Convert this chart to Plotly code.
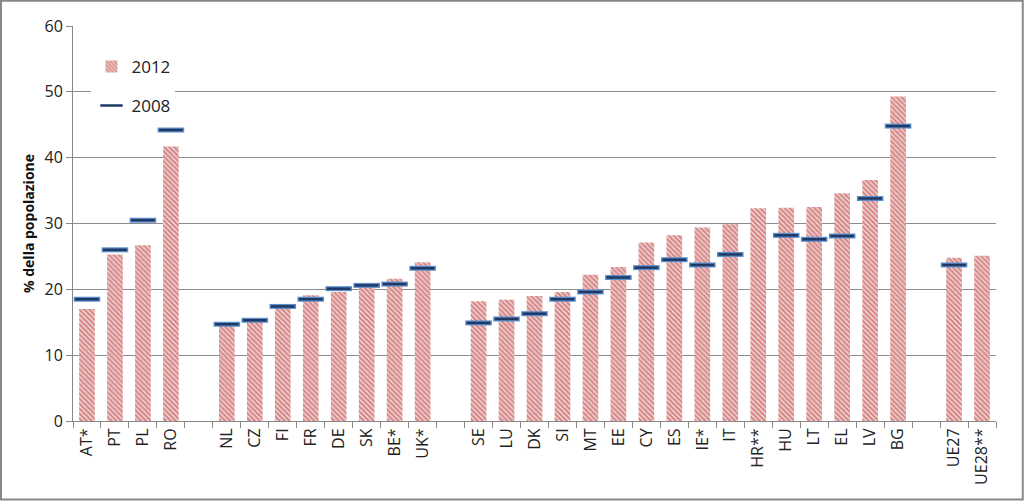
import plotly.graph_objects as go

categories = ["AT*", "PT", "PL", "RO", " ",
              "NL", "CZ", "FI", "FR", "DE", "SK", "BE*", "UK*", "  ",
              "SE", "LU", "DK", "SI", "MT", "EE", "CY", "ES", "IE*", "IT", "HR**",
              "HU", "LT", "EL", "LV", "BG", "   ",
              "UE27", "UE28**"]
values_2012 = [17.0, 25.3, 26.7, 41.7, None,
               15.0, 15.4, 17.2, 19.1, 19.6, 20.5, 21.6, 24.1, None,
               18.2, 18.4, 19.0, 19.6, 22.2, 23.4, 27.1, 28.2, 29.4, 29.9, 32.3,
               32.4, 32.5, 34.6, 36.6, 49.3, None,
               24.8, 25.1]
values_2008 = [18.5, 26.0, 30.5, 44.2, None,
               14.7, 15.3, 17.4, 18.5, 20.1, 20.6, 20.8, 23.2, None,
               14.9, 15.5, 16.3, 18.5, 19.6, 21.8, 23.3, 24.5, 23.7, 25.3, None,
               28.2, 27.6, 28.1, 33.8, 44.8, None,
               23.7, None]
y_ticks = [0, 10, 20, 30, 40, 50, 60]

font_family = "Open Sans, Liberation Sans, sans-serif"

fig = go.Figure()
fig.add_trace(go.Bar(
    x=categories, y=values_2012, name="2012", width=0.56, legendgroup="a",
    marker=dict(color="white", line=dict(width=0),
                pattern=dict(shape="\\", fgcolor="#B01818", bgcolor="white",
                             size=3.5, solidity=0.75)),
))
fig.add_trace(go.Scatter(
    x=categories, y=values_2008, mode="markers", showlegend=False,
    marker=dict(symbol="line-ew", size=19, line=dict(width=5, color="#5B8FCB")),
    hoverinfo="skip",
))
fig.add_trace(go.Scatter(
    x=categories, y=values_2008, mode="markers", name="2008", legendgroup="b",
    marker=dict(symbol="line-ew", size=17, line=dict(width=2.5, color="#1F3864")),
))

fig.update_layout(
    width=1024, height=501,
    margin=dict(l=73, r=28, t=26, b=80),
    paper_bgcolor="white", plot_bgcolor="white",
    font=dict(family=font_family, size=14, color="#333333"),
    legend=dict(x=0.02, y=0.942, xanchor="left", yanchor="top",
                bgcolor="white", font=dict(size=17, color="#222222"),
                itemwidth=30, tracegroupgap=14),
    xaxis=dict(
        type="category", categoryorder="array", categoryarray=categories,
        tickangle=-90, tickson="boundaries", ticks="outside", ticklen=6,
        tickcolor="#888888", showline=True, linecolor="#888888", linewidth=1,
        showgrid=False, tickfont=dict(size=16, color="#222222"),
        range=[-0.5, len(categories) - 0.5],
    ),
    yaxis=dict(
        range=[0, 60], tickvals=y_ticks, ticks="outside", ticklen=6,
        tickcolor="#888888", showline=True, linecolor="#888888", linewidth=1,
        showgrid=True, gridcolor="#8C8C8C", gridwidth=1, zeroline=False,
        tickfont=dict(size=16, color="#222222"),
        title=dict(text="<b>% della popolazione</b>", font=dict(size=14, color="#111111"),
                   standoff=6),
    ),
    shapes=[dict(type="rect", xref="paper", yref="paper",
                 x0=-0.078, x1=1.029, y0=-0.199, y1=1.064,
                 line=dict(color="#888888", width=2), fillcolor="rgba(0,0,0,0)")],
)

fig.write_html("out.html")
